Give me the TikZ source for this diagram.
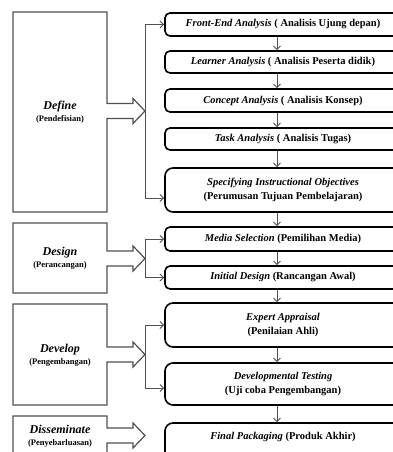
\documentclass[tikz,border=0pt]{standalone}
\usepackage{fontspec}
\setmainfont{Liberation Serif}
\usepackage{tikz}
\usepackage{xcolor}
\usetikzlibrary{calc, arrows.meta}

\definecolor{boxgray}{HTML}{505050}

% left phase box, open on the right into a block arrow
\newcommand{\phasebox}[4]{%
  \draw[phase] (107,#3-7.5) -- (107,#1) -- (13,#1) -- (13,#2) -- (107,#2)
    -- (107,#3+7.5) -- (133,#3+7.5) -- (133,#3+12.5) -- (145,#3)
    -- (133,#3-12.5) -- (133,#3-7.5) -- cycle;
  \coordinate (#4) at (145,#3);}

\begin{document}
\begin{tikzpicture}[x=1pt, y=-1pt,
    phase/.style={draw=boxgray, line width=1.2pt, line join=miter},
    phaselabel/.style={align=center, inner sep=0pt},
    task/.style={
      draw, rounded corners=5pt,
      line width=1.6pt,
      minimum width=236pt,
      inner sep=0pt,
      align=center,
      font=\fontsize{10.5}{14}\selectfont\bfseries
    },
    branch/.style={draw=boxgray, line width=1pt},
    flow/.style={draw=boxgray, line width=0.9pt},
    >={Straight Barb[length=3.5pt,width=7pt]}]
  \useasboundingbox[fill=white] (0,0) rectangle (392,452);

  % phases
  \phasebox{12}{212}{111}{dft}
  \phasebox{223}{293}{258.5}{dst}
  \phasebox{304}{405}{354.5}{dvt}
  \phasebox{416}{480}{435.5}{dmt}

  \node[phaselabel] (dfl) at (60,112) {{\fontsize{12}{14}\selectfont\bfseries\itshape Define}\\
    {\fontsize{8.5}{10}\selectfont\bfseries (Pendefisian)}};
  \node[phaselabel] (dsl) at (60,258.5) {{\fontsize{12}{14}\selectfont\bfseries\itshape Design}\\
    {\fontsize{8.5}{10}\selectfont\bfseries (Perancangan)}};
  \node[phaselabel] (dvl) at (60,355.5) {{\fontsize{12}{14}\selectfont\bfseries\itshape Develop}\\
    {\fontsize{8.5}{10}\selectfont\bfseries (Pengembangan)}};
  \node[phaselabel] (dml) at (60,436.5) {{\fontsize{12}{14}\selectfont\bfseries\itshape Disseminate}\\
    {\fontsize{8.5}{10}\selectfont\bfseries (Penyebarluasan)}};

  % steps
  \node[task, minimum height=23pt] (fe) at (283,24.5)
    {\textit{Front-End Analysis} ( Analisis Ujung depan)};
  \node[task, minimum height=22pt] (la) at (283,62)
    {\textit{Learner Analysis} ( Analisis Peserta didik)};
  \node[task, minimum height=23pt] (ca) at (283,100.5)
    {\textit{Concept Analysis} ( Analisis Konsep)};
  \node[task, minimum height=22pt] (ta) at (283,139)
    {\textit{Task Analysis} ( Analisis Tugas)};
  \node[task, minimum height=44pt, rounded corners=8pt] (so) at (283,190)
    {\textit{Specifying Instructional Objectives}\\(Perumusan Tujuan Pembelajaran)};
  \node[task, minimum height=24pt] (ms) at (283,239)
    {\textit{Media Selection} (Pemilihan Media)};
  \node[task, minimum height=23pt] (id) at (283,277.5)
    {\textit{Initial Design} (Rancangan Awal)};
  \node[task, minimum height=44pt, rounded corners=8pt] (ea) at (283,325)
    {\textit{Expert Appraisal}\\(Penilaian Ahli)};
  \node[task, minimum height=42pt, rounded corners=8pt] (dt) at (283,384)
    {\textit{Developmental Testing}\\(Uji coba Pengembangan)};
  \node[task, minimum height=44pt, rounded corners=8pt, text depth=18pt] (fp) at (283,445)
    {\textit{Final Packaging} (Produk Akhir)};

  % branches
  \draw[branch,->] (dft) |- (fe.west);
  \draw[branch,->] (dft) |- ([yshift=-8pt]so.west);
  \draw[branch,->] (dst) |- (ms.west);
  \draw[branch,->] (dst) |- (id.west);
  \draw[branch,->] (dvt) |- (ea.west);
  \draw[branch,->] (dvt) |- ([yshift=-4pt]dt.west);

  \foreach \a/\b in {fe/la, la/ca, ca/ta, ta/so, so/ms, ms/id, id/ea, ea/dt, dt/fp}
    \draw[flow,->] ([xshift=-6pt]\a.south) -- ([xshift=-6pt]\b.north);
\end{tikzpicture}
\end{document}
